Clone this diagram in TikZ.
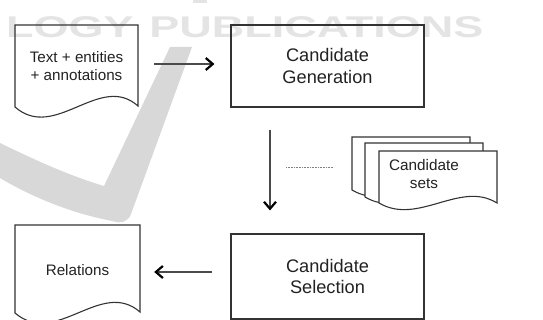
\documentclass[tikz,border=0pt]{standalone}
\usepackage{fontspec}
\setmainfont{Liberation Sans}
\usetikzlibrary{arrows.meta}
\definecolor{ln}{HTML}{333333}
\definecolor{shaft}{HTML}{4A4A4A}
\definecolor{wm}{HTML}{E4E4E4}
\definecolor{chk}{HTML}{D8D8D8}
\definecolor{txt}{HTML}{222222}
\begin{document}
\begin{tikzpicture}[x=1pt,y=-1pt,
  procbox/.style={draw=ln, line width=1.1pt, minimum width=193pt,
    inner sep=0pt, align=center, text=txt, font=\fontsize{18.2}{21.6}\selectfont},
  doctext/.style={inner sep=0pt, align=center, text=txt, font=\fontsize{15.2}{18}\selectfont},
  docshape/.style={draw=ln, line width=1.1pt, line join=miter},
  flow/.style={draw=shaft, line width=1.4pt, -{Straight Barb[length=7pt,width=12pt,line width=2.2pt,color=black]}},
  dotline/.style={draw=gray, line width=1pt, dash pattern=on 0.8pt off 0.8pt},
  wmtext/.style={text=wm, inner sep=0pt, xscale=1.5, font=\fontsize{30}{30}\bfseries\selectfont}
]
\useasboundingbox (0,0) rectangle (543,320);
% watermark
\fill[chk] (170,47) -- (192,47) -- (131,214) .. controls (128,222) and (121,224) .. (112,221)
  .. controls (70,213) and (30,196) .. (0,178) -- (0,143) .. controls (35,160) and (70,176) .. (104,186) -- cycle;
\node[wmtext, anchor=base east] (wm1) at (134,38) {LOGY};
\node[wmtext, anchor=base west] (wm2) at (149,38) {PUBLICATIONS};
\fill[wm] (193,0) rectangle (207,3);
% reference coordinates
\coordinate (row1) at (0,64);
\coordinate (row3) at (0,272);
\coordinate (col) at (270,0);
% documents
\draw[docshape] (15,25) -- (138,25) -- (138,106) .. controls (100,72) and (55,142) .. (15,107) -- cycle;
\node[doctext, minimum width=123pt] (doc1) at (76.5,66) {Text + entities\\+ annotations};
\draw[docshape] (15,225) -- (140,225) -- (140,312) .. controls (101,278) and (56,348) .. (15,313) -- cycle;
\node[doctext, minimum width=125pt] (rel) at (77.5,270) {Relations};
% process boxes
\node[procbox, minimum height=82pt] (gen) at (327.5,66) {Candidate\\Generation};
\node[procbox, minimum height=85pt] (sel) at (327.5,276.5) {Candidate\\Selection};
% candidate sets stack
\draw[docshape, fill=white] (352,137) -- (470,137) -- (470,189) .. controls (433,167) and (391,213) .. (352,190) -- cycle;
\draw[docshape, fill=white] (365,143) -- (483,143) -- (483,196) .. controls (446,174) and (404,220) .. (365,197) -- cycle;
\draw[docshape, fill=white] (379,151) -- (497,151) -- (497,203) .. controls (460,180) and (418,226) .. (379,203) -- cycle;
\node[doctext, font=\fontsize{15.3}{18}\selectfont] (cands) at (424,174) {Candidate\\sets};
\coordinate (dots1) at (286,168);
\coordinate (dots2) at (334,168);
% connectors
\draw[flow, shorten <=16pt, shorten >=16pt] (doc1.east |- row1) -- (gen.west |- row1);
\draw[flow, shorten <=22pt, shorten >=23pt] (gen.south -| col) -- (sel.north -| col);
\draw[dotline] (dots1) -- (dots2);
\draw[flow, shorten <=18pt, shorten >=14pt] (sel.west |- row3) -- (rel.east |- row3);
\end{tikzpicture}
\end{document}
